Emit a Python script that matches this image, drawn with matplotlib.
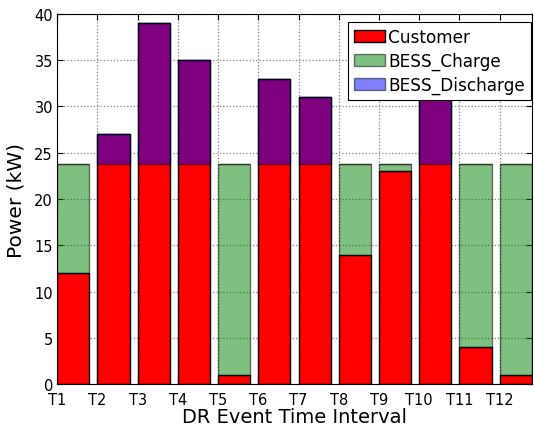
import numpy as np
import matplotlib.pyplot as plt

intervals = ['T1', 'T2', 'T3', 'T4', 'T5', 'T6', 'T7', 'T8', 'T9', 'T10', 'T11', 'T12']
customer = [12, 27, 39, 35, 1, 33, 31, 14, 23, 34, 4, 1]
bess_limit = 23.8

x = np.arange(len(intervals))
customer = np.array(customer, dtype=float)
charge = np.clip(bess_limit - customer, 0, None)
discharge = np.clip(customer - bess_limit, 0, None)

fig = plt.figure(figsize=(5.34, 4.27), dpi=100)
ax = fig.add_axes([0.107, 0.098, 0.889, 0.867])

ax.bar(x, customer, width=0.8, align='edge', color='red', edgecolor='black', label='Customer', zorder=2)
ax.bar(x, charge, width=0.8, align='edge', bottom=customer, color='green', alpha=0.5,
       edgecolor='black', label='BESS_Charge', zorder=2)
ax.bar(x, discharge, width=0.8, align='edge', bottom=bess_limit, color='blue', alpha=0.5,
       edgecolor='black', label='BESS_Discharge', zorder=2)

ax.set_xlim(0, 11.8)
ax.set_ylim(0, 40)
ax.set_xticks(x)
ax.set_xticklabels(intervals)
ax.tick_params(direction='in', top=True, right=True, labelsize=10.5, length=4, pad=3)
ax.tick_params(axis='x', pad=5.5)
ax.grid(True, linestyle=':', color='gray', linewidth=0.9, zorder=0)
ax.set_axisbelow(True)

ax.set_xlabel('DR Event Time Interval', fontsize=14, labelpad=0)
ax.set_ylabel('Power (kW)', fontsize=14.5, labelpad=6)

leg = ax.legend(loc='upper right', bbox_to_anchor=(0.998, 0.978), fontsize=12.2,
                fancybox=False, framealpha=1, edgecolor='black', handlelength=1.8,
                handletextpad=0.2, borderaxespad=0, borderpad=0.35, labelspacing=0.35)
leg.get_frame().set_linewidth(0.8)

fig.savefig('out.png', dpi=100)
